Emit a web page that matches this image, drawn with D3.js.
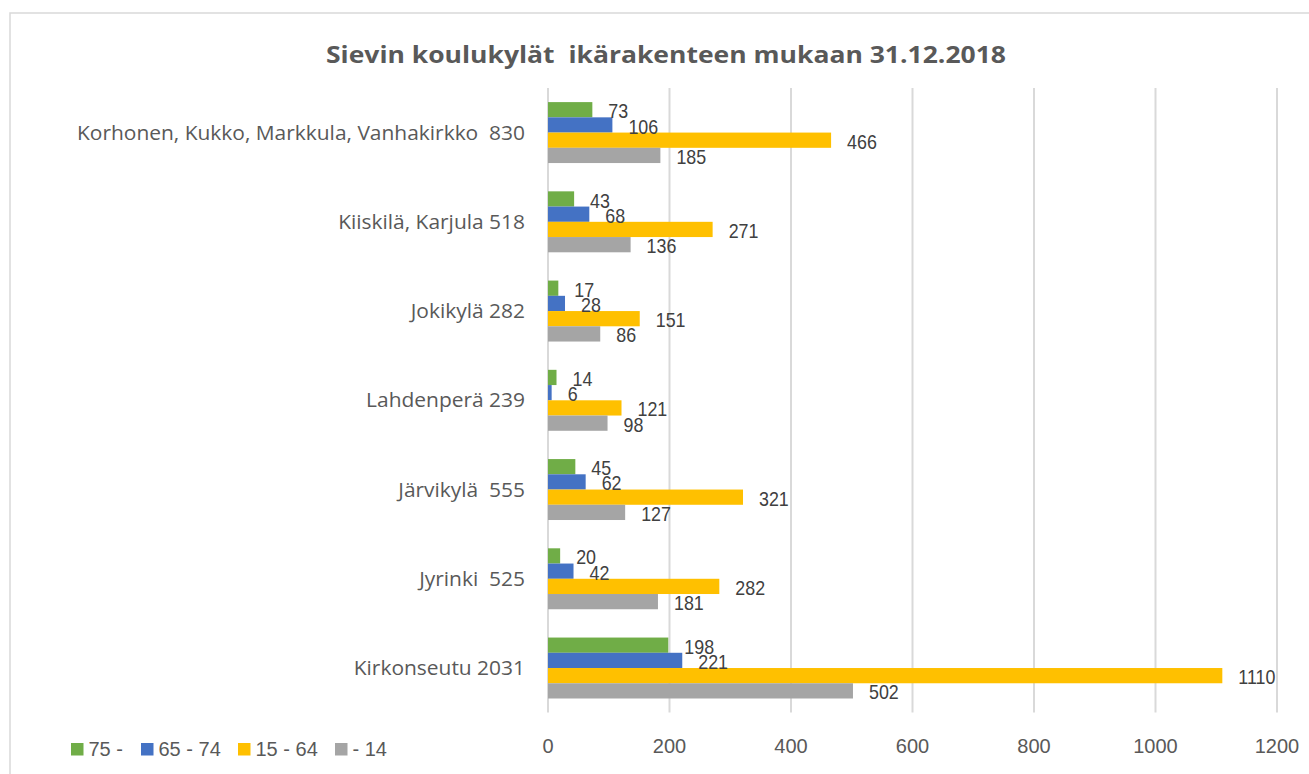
<!DOCTYPE html>
<html>
<head>
<meta charset="utf-8">
<script src="https://d3js.org/d3.v7.min.js"></script>
<style>
  body { margin: 0; background: #fff; }
  svg text { white-space: pre; }
</style>
</head>
<body>
<script>
// Data
var categories = [
  "Korhonen, Kukko, Markkula, Vanhakirkko  830",
  "Kiiskilä, Karjula 518",
  "Jokikylä 282",
  "Lahdenperä 239",
  "Järvikylä  555",
  "Jyrinki  525",
  "Kirkonseutu 2031"
];
var seriesNames = ["75 -", "65 - 74", "15 - 64", "- 14"];
var age75 = [73, 43, 17, 14, 45, 20, 198];
var age65 = [106, 68, 28, 6, 62, 42, 221];
var age15 = [466, 271, 151, 121, 321, 282, 1110];
var age0 = [185, 136, 86, 98, 127, 181, 502];
var xTicks = [0, 200, 400, 600, 800, 1000, 1200];
var colors = ["#70ad47", "#4472c4", "#ffc000", "#a5a5a5"];

var seriesValues = [age75, age65, age15, age0];

var w = 1309, h = 774;
var svg = d3.select("body").append("svg")
  .attr("width", w)
  .attr("height", h);

var labelFont = "'Open Sans', Lato, sans-serif";
var numFont = "'Liberation Sans', Arial, sans-serif";

// squeeze or widen text horizontally by a factor (stand-in for Calibri / Arial Narrow)
function stretch(sel, k) {
  sel.each(function() {
    var len = this.getComputedTextLength();
    d3.select(this).attr("textLength", len * k).attr("lengthAdjust", "spacingAndGlyphs");
  });
}

// chart frame (right and bottom edges fall outside the picture)
svg.append("rect")
  .attr("x", 10).attr("y", 13)
  .attr("width", 1400).attr("height", 800)
  .attr("fill", "none")
  .attr("stroke", "#d9d9d9")
  .attr("stroke-width", 1.5);

var x = d3.scaleLinear().domain([0, 1200]).range([548, 1277]);

var y0 = d3.scaleBand()
  .domain(categories)
  .range([88, 712.6])
  .paddingInner(0.317)
  .paddingOuter(0.158);

var y1 = d3.scaleBand()
  .domain(seriesNames)
  .range([0, y0.bandwidth()]);

// gridlines
svg.append("g")
  .selectAll("line")
  .data(xTicks)
  .enter().append("line")
    .attr("x1", function(d) { return x(d); })
    .attr("x2", function(d) { return x(d); })
    .attr("y1", 88)
    .attr("y2", 712.6)
    .attr("stroke", "#d9d9d9")
    .attr("stroke-width", 2);

// bars
var rows = categories.map(function(c, i) {
  return { cat: c, vals: seriesNames.map(function(s, j) { return { s: s, j: j, v: seriesValues[j][i] }; }) };
});

var groups = svg.append("g").selectAll("g")
  .data(rows)
  .enter().append("g")
    .attr("transform", function(d) { return "translate(0," + y0(d.cat) + ")"; });

groups.selectAll("rect")
  .data(function(d) { return d.vals; })
  .enter().append("rect")
    .attr("x", x(0))
    .attr("y", function(d) { return y1(d.s); })
    .attr("width", function(d) { return x(d.v) - x(0); })
    .attr("height", y1.bandwidth())
    .attr("fill", function(d) { return colors[d.j]; });

var valueLabels = groups.selectAll("text")
  .data(function(d) { return d.vals; })
  .enter().append("text")
    .attr("x", function(d) { return x(d.v) + 16; })
    .attr("y", function(d) { return y1(d.s) + y1.bandwidth() / 2 + 1; })
    .attr("dy", "0.36em")
    .attr("font-family", numFont)
    .attr("font-size", 21)
    .attr("fill", "#404040")
    .text(function(d) { return d.v; });
stretch(valueLabels, 0.85);

// category axis labels
var catLabels = svg.append("g").selectAll("text")
  .data(categories)
  .enter().append("text")
    .attr("x", 525)
    .attr("y", function(d) { return y0(d) + y0.bandwidth() / 2; })
    .attr("dy", "0.35em")
    .attr("text-anchor", "end")
    .attr("font-family", labelFont)
    .attr("font-size", 20)
    .attr("fill", "#595959")
    .text(function(d) { return d; });
var catK = 448 / catLabels.node().getComputedTextLength();
stretch(catLabels, catK);

// value axis tick labels
svg.append("g").selectAll("text")
  .data(xTicks)
  .enter().append("text")
    .attr("x", function(d) { return x(d); })
    .attr("y", 753)
    .attr("text-anchor", "middle")
    .attr("font-family", numFont)
    .attr("font-size", 20)
    .attr("fill", "#595959")
    .text(function(d) { return d; });

// title
var title = svg.append("text")
  .attr("x", 666)
  .attr("y", 63)
  .attr("text-anchor", "middle")
  .attr("font-family", labelFont)
  .attr("font-weight", "bold")
  .attr("font-size", 24)
  .attr("fill", "#595959")
  .text("Sievin koulukylät  ikärakenteen mukaan 31.12.2018");
stretch(title, 680 / title.node().getComputedTextLength());

// legend
var legendX = [71, 141, 238, 335];
var legend = svg.append("g").selectAll("g")
  .data(seriesNames)
  .enter().append("g")
    .attr("transform", function(d, i) { return "translate(" + legendX[i] + ",743)"; });

legend.append("rect")
  .attr("width", 12.5)
  .attr("height", 12.5)
  .attr("fill", function(d, i) { return colors[i]; });

legend.append("text")
  .attr("x", 17.5)
  .attr("y", 13)
  .attr("font-family", numFont)
  .attr("font-size", 20)
  .attr("fill", "#595959")
  .text(function(d) { return d; });
</script>
</body>
</html>
